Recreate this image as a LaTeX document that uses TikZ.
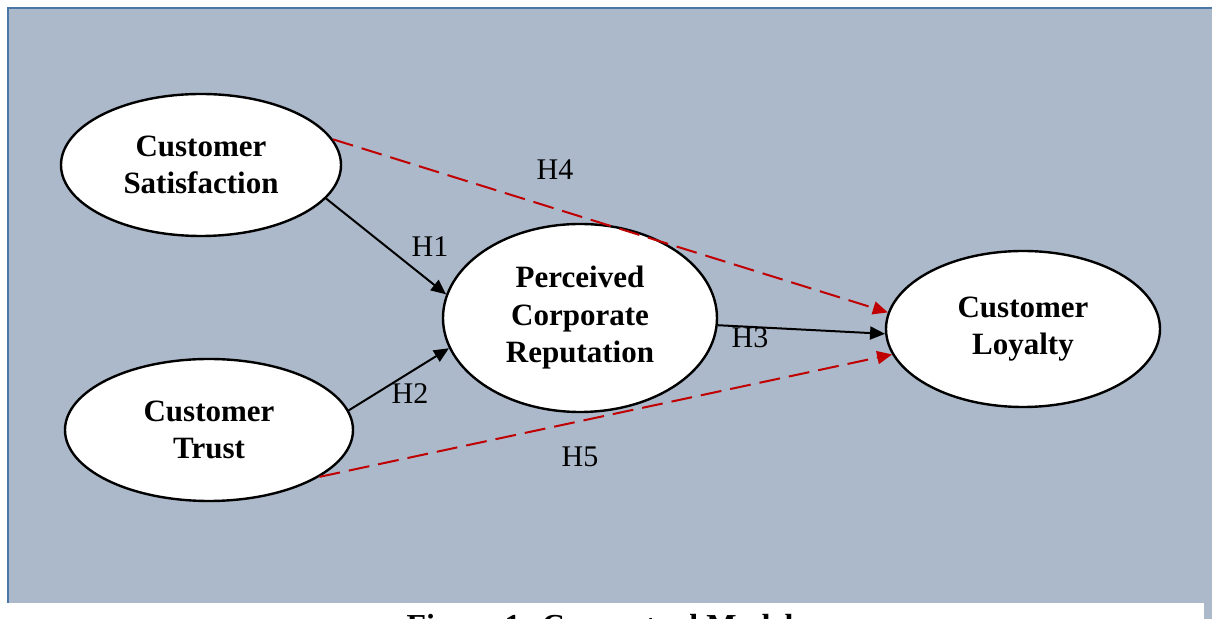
\documentclass[tikz,border=0pt]{standalone}
\usepackage{fontspec}
\setmainfont{Liberation Serif}
\usetikzlibrary{arrows.meta,shapes.geometric}
\definecolor{panelfill}{HTML}{ACB9CA}
\definecolor{panelline}{HTML}{4A76A8}
\definecolor{hred}{HTML}{C00000}
\begin{document}
\begin{tikzpicture}[x=0.5pt,y=-0.5pt,
  construct/.style={ellipse,draw=black,line width=1.2pt,fill=white,inner sep=0pt,align=center,
    font=\fontsize{15.5}{18.75}\selectfont\bfseries},
  hyp/.style={font=\fontsize{15}{18}\selectfont,inner sep=0pt},
  solidarrow/.style={draw=black,line width=1pt,-{Triangle[length=7.5pt,width=6.5pt]}},
  dasharrow/.style={draw=hred,line width=1pt,dash pattern=on 10.5pt off 4.5pt,
    -{Triangle[length=7.5pt,width=6.5pt]}}]
\useasboundingbox (0,0) rectangle (1212,619);
\clip (0,0) rectangle (1212,619);
\fill[white] (0,0) rectangle (1212,619);
\fill[panelfill] (1204,600) rectangle (1212,619);
\fill[panelfill] (8,8) rectangle (1216,603);
\draw[panelline,line width=1pt] (8,603) -- (8,8) -- (1216,8);

\node[construct,minimum width=140pt,minimum height=71pt] (sat) at (201,165) {Customer\\Satisfaction};
\node[construct,minimum width=144pt,minimum height=71pt] (trust) at (209,430) {Customer\\Trust};
\node[construct,minimum width=137pt,minimum height=94pt] (rep) at (580,318) {Perceived\\Corporate\\Reputation};
\node[construct,minimum width=137pt,minimum height=78pt] (loy) at (1023,329) {Customer\\Loyalty};

\draw[solidarrow] (sat.-15.8) -- (rep.170.5);
\draw[solidarrow] (trust.8.1) -- (rep.193.1);
\draw[solidarrow] (rep.-3.3) -- (loy.182.1);
\draw[dasharrow] (sat.11.9) -- (loy.173.3);
\draw[dasharrow] (trust.-23.3) -- (loy.191.1);

\node[hyp] (h1) at (430,247) {H1};
\node[hyp] (h2) at (410,394) {H2};
\node[hyp] (h3) at (750,338) {H3};
\node[hyp] (h4) at (555,170) {H4};
\node[hyp] (h5) at (580,457) {H5};

\node[font=\fontsize{16}{19}\selectfont\bfseries,anchor=base,inner sep=0pt] (cap) at (600,637) {Figure 1: Conceptual Model};
\end{tikzpicture}
\end{document}
